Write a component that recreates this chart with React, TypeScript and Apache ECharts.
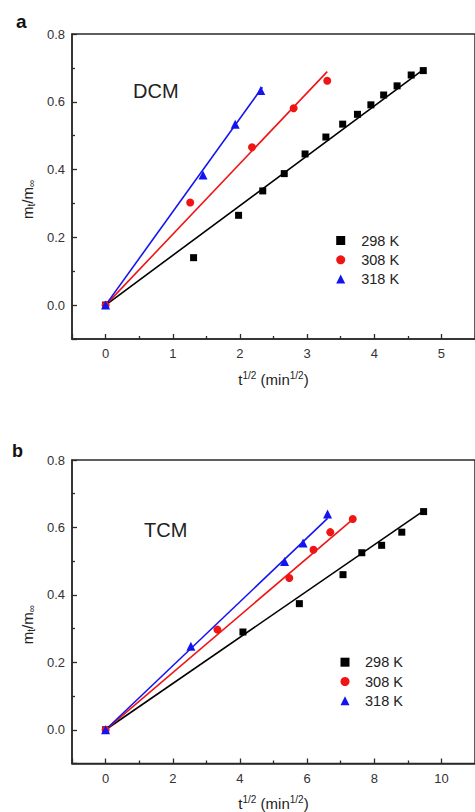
import React, { useEffect, useRef } from "react";
import * as echarts from "echarts";

const seriesNames = ["298 K", "308 K", "318 K"];

// Panel a (DCM)
const dcmX298 = [0, 1.31, 1.98, 2.34, 2.66, 2.97, 3.28, 3.53, 3.75, 3.95, 4.14, 4.34, 4.55, 4.73];
const dcmY298 = [0, 0.14, 0.265, 0.337, 0.388, 0.446, 0.496, 0.534, 0.563, 0.591, 0.62, 0.647, 0.679, 0.692];
const dcmX308 = [0, 1.26, 2.18, 2.8, 3.3];
const dcmY308 = [0, 0.303, 0.466, 0.581, 0.662];
const dcmX318 = [0, 1.45, 1.93, 2.31];
const dcmY318 = [0, 0.384, 0.534, 0.633];
const dcmFitEndX = [4.76, 3.3, 2.335];
const dcmFitEndY = [0.699, 0.689, 0.643];

// Panel b (TCM)
const tcmX298 = [0, 4.09, 5.77, 7.07, 7.63, 8.22, 8.82, 9.47];
const tcmY298 = [0, 0.29, 0.374, 0.46, 0.525, 0.547, 0.586, 0.647];
const tcmX308 = [0, 3.33, 5.47, 6.19, 6.69, 7.36];
const tcmY308 = [0, 0.297, 0.45, 0.534, 0.586, 0.625];
const tcmX318 = [0, 2.54, 5.33, 5.88, 6.61];
const tcmY318 = [0, 0.248, 0.499, 0.554, 0.64];
const tcmFitEndX = [9.51, 7.43, 6.61];
const tcmFitEndY = [0.652, 0.63, 0.627];

const FONT = "Liberation Sans, Arial, sans-serif";
const colors = ["#000000", "#f01414", "#1414f0"];
const symbols = ["rect", "circle", "triangle"];
const symbolSizes = [7, 8, 9];
const axisColor = "#2a2a2a";

const zip = (xs: number[], ys: number[]) => xs.map((x, i) => [x, ys[i]]);

function panelSeries(idx: number, xs: number[][], ys: number[][], fx: number[], fy: number[], tag: string) {
  const out: any[] = [];
  for (let k = 0; k < 3; k++) {
    out.push({
      type: "line",
      name: `fit ${seriesNames[k]} ${tag}`,
      xAxisIndex: idx,
      yAxisIndex: idx,
      data: [[0, 0], [fx[k], fy[k]]],
      showSymbol: false,
      symbol: "none",
      lineStyle: { color: colors[k], width: 1.6 },
      z: 2,
      silent: true,
    });
  }
  for (let k = 0; k < 3; k++) {
    out.push({
      type: "scatter",
      name: seriesNames[k],
      xAxisIndex: idx,
      yAxisIndex: idx,
      data: zip(xs[k], ys[k]),
      symbol: symbols[k],
      symbolSize: symbolSizes[k],
      itemStyle: { color: colors[k], opacity: 1 },
      z: 3,
    });
  }
  return out;
}

const commonAxis = {
  type: "value",
  axisLine: { show: true, onZero: false, lineStyle: { color: axisColor, width: 1.5 } },
  axisTick: { show: true, inside: true, length: 5, lineStyle: { color: axisColor, width: 1.3 } },
  minorTick: { show: true, splitNumber: 2, length: 3, lineStyle: { color: axisColor, width: 1.3 } },
  splitLine: { show: false },
  minorSplitLine: { show: false },
};

const xName = "{m|t}{s|1/2}{m| (min}{s|1/2}{m|)}";
const yName = "{m|m}{b|t}{m|/m}{b|\u221e}";
const nameRich = {
  m: { fontSize: 15, fontFamily: FONT, color: "#222", lineHeight: 18 },
  s: { fontSize: 10, fontFamily: FONT, color: "#222", lineHeight: 10, verticalAlign: "top" },
  b: { fontSize: 10, fontFamily: FONT, color: "#222", lineHeight: 10, verticalAlign: "bottom" },
};

function xAxisFor(idx: number, min: number, max: number) {
  return {
    ...commonAxis,
    gridIndex: idx,
    min,
    max,
    splitNumber: 6,
    axisLabel: {
      fontSize: 13,
      fontFamily: FONT,
      color: "#333",
      margin: 8,
      showMinLabel: false,
      showMaxLabel: false,
    },
    name: xName,
    nameLocation: "middle",
    nameGap: 31,
    nameTextStyle: { rich: nameRich },
  };
}

function yAxisFor(idx: number) {
  return {
    ...commonAxis,
    gridIndex: idx,
    min: -0.1,
    max: 0.8,
    splitNumber: 4,
    axisLabel: {
      fontSize: 13,
      fontFamily: FONT,
      color: "#333",
      margin: 7,
      showMinLabel: false,
      showMaxLabel: true,
      formatter: (v: number) => v.toFixed(1),
    },
    name: yName,
    nameLocation: "middle",
    nameRotate: 90,
    nameGap: 32,
    nameTextStyle: { rich: nameRich, padding: [0, 26, 0, 0] },
  };
}

function legendFor(left: number, top: number, textPad: number) {
  return {
    data: seriesNames,
    orient: "vertical",
    left,
    top,
    padding: 0,
    itemWidth: 9,
    itemHeight: 9,
    itemGap: 4.3,
    selectedMode: false,
    itemStyle: { opacity: 1 },
    textStyle: { fontSize: 14.5, fontFamily: FONT, color: "#222", lineHeight: 14, padding: [0, 0, 0, textPad] },
  };
}

export default function App() {
  const ref = useRef<HTMLDivElement>(null);
  useEffect(() => {
    if (!ref.current) return;
    document.body.style.margin = "0";
    const chart = echarts.init(ref.current, undefined, { renderer: "svg" });
    const gridStyle = { show: true, borderColor: axisColor, borderWidth: 1.5, backgroundColor: "transparent" };
    chart.setOption({
      animation: false,
      backgroundColor: "#ffffff",
      grid: [
        { left: 72, top: 34, width: 412, height: 305, ...gridStyle },
        { left: 72, top: 460, width: 412, height: 305, ...gridStyle },
      ],
      xAxis: [xAxisFor(0, -0.5, 5.5), xAxisFor(1, -1, 11)],
      yAxis: [yAxisFor(0), yAxisFor(1)],
      legend: [legendFor(336.2, 233, 11), legendFor(340.5, 654.7, 10.5)],
      graphic: [
        { type: "text", x: 16, y: 21.7, style: { text: "a", font: `bold 19px ${FONT}`, fill: "#111", verticalAlign: "middle" } },
        { type: "text", x: 12, y: 450.5, style: { text: "b", font: `bold 18px ${FONT}`, fill: "#111", verticalAlign: "middle" } },
        { type: "text", x: 133, y: 91.4, style: { text: "DCM", font: `20px ${FONT}`, fill: "#222", verticalAlign: "middle" } },
        { type: "text", x: 144, y: 530.4, style: { text: "TCM", font: `20px ${FONT}`, fill: "#222", verticalAlign: "middle" } },
      ],
      series: [
        ...panelSeries(0, [dcmX298, dcmX308, dcmX318], [dcmY298, dcmY308, dcmY318], dcmFitEndX, dcmFitEndY, "a"),
        ...panelSeries(1, [tcmX298, tcmX308, tcmX318], [tcmY298, tcmY308, tcmY318], tcmFitEndX, tcmFitEndY, "b"),
      ],
    });
    return () => chart.dispose();
  }, []);
  return (
    <div
      ref={ref}
      style={{ position: "fixed", left: 0, top: 0, width: "475px", height: "812px", background: "#fff" }}
    />
  );
}
